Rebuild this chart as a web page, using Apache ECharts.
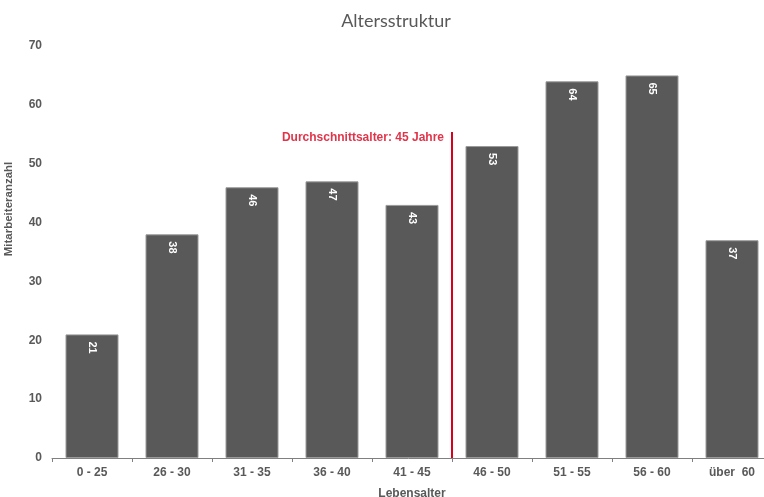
<!DOCTYPE html>
<html><head><meta charset="utf-8">
<script src="https://cdn.jsdelivr.net/npm/echarts@6/dist/echarts.min.js"></script>
<style>html,body{margin:0;padding:0;background:#fff}#c{width:764px;height:497px}</style>
</head><body><div id="c"></div>
<script>
const categories = ['0 - 25','26 - 30','31 - 35','36 - 40','41 - 45','46 - 50','51 - 55','56 - 60','über  60'];
const values = [21, 38, 46, 47, 43, 53, 64, 65, 37];
const yTicks = [0, 10, 20, 30, 40, 50, 60, 70];
const avgAge = 45;
const avgLinePos = 5;      // boundary between '41 - 45' and '46 - 50'
const avgLineTop = 55.4;
const avgLabelY = 54.5;
const avgLabel = 'Durchschnittsalter: ' + avgAge + ' Jahre';

const chart = echarts.init(document.getElementById('c'));
const txt = '#595959';
chart.setOption({
  animation: false,
  backgroundColor: '#fff',
  title: {
    text: 'Altersstruktur', left: 391, top: 7, textAlign: 'center',
    textStyle: { fontFamily: 'Lato', fontSize: 18, fontWeight: 'normal', color: txt }
  },
  grid: { left: 52, right: -8, top: 46, bottom: 39, containLabel: false, outerBoundsMode: 'none' },
  xAxis: [{
    type: 'category', data: categories,
    name: 'Lebensalter', nameLocation: 'middle', nameGap: 30,
    nameTextStyle: { fontFamily: 'Liberation Sans', fontSize: 12, fontWeight: 'bold', color: txt },
    axisLine: { lineStyle: { color: '#808080', width: 1 } },
    axisTick: { show: true, length: 4, lineStyle: { color: '#808080' } },
    axisLabel: { margin: 9, fontFamily: 'Liberation Sans', fontSize: 12, fontWeight: 'bold', color: txt, interval: 0 }
  }, {
    type: 'value', min: 0, max: categories.length, show: false
  }],
  yAxis: {
    type: 'value', min: yTicks[0], max: yTicks[yTicks.length - 1], interval: 10,
    name: 'Mitarbeiteranzahl', nameLocation: 'middle', nameGap: 37,
    nameTextStyle: { fontFamily: 'Liberation Sans', fontSize: 11.5, fontWeight: 'bold', color: txt, padding: [0, 0, 0, 86] },
    axisLine: { show: false }, axisTick: { show: false }, splitLine: { show: false },
    axisLabel: { margin: 10, fontFamily: 'Liberation Sans', fontSize: 12, fontWeight: 'bold', color: txt }
  },
  series: [{
    type: 'bar', data: values, barWidth: 53,
    itemStyle: { color: '#595959', borderColor: '#9a9a9a', borderWidth: 1 },
    label: {
      show: true, position: 'insideTop', rotate: -90, distance: 7,
      align: 'left', verticalAlign: 'middle',
      color: '#fff', fontFamily: 'Liberation Sans', fontWeight: 'bold', fontSize: 11
    },
    z: 2
  }, {
    type: 'line', xAxisIndex: 1, data: [[avgLinePos, 0], [avgLinePos, avgLineTop]],
    symbol: 'none', lineStyle: { color: '#d9001b', width: 2 }, z: 5
  }, {
    type: 'scatter', xAxisIndex: 1, data: [[avgLinePos, avgLabelY]], symbolSize: 0,
    label: {
      show: true, position: 'left', distance: 8, formatter: avgLabel,
      color: '#d9001b', fontFamily: 'Liberation Sans', fontWeight: 'bold', fontSize: 12
    }, z: 5
  }]
});
</script></body></html>
